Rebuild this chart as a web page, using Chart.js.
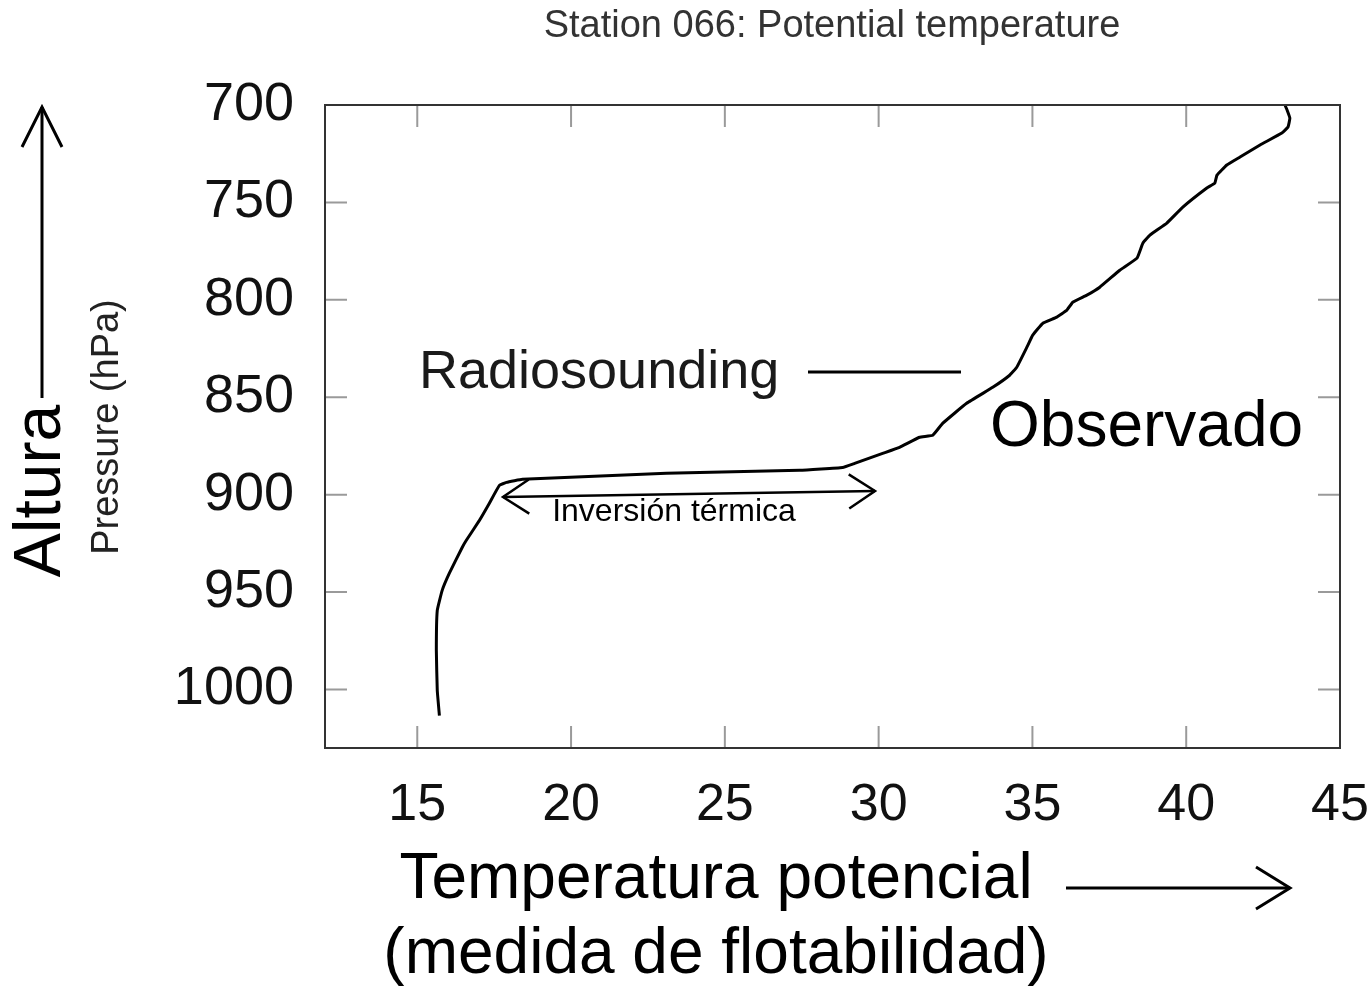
<!DOCTYPE html>
<html>
<head>
<meta charset="utf-8">
<script src="https://cdn.jsdelivr.net/npm/chart.js@4.4.1/dist/chart.umd.min.js"></script>
<style>
  html, body { margin: 0; padding: 0; background: #fff; }
  #wrap { width: 1372px; height: 986px; position: relative; }
</style>
</head>
<body>
<div id="wrap"><canvas id="sounding"></canvas></div>
<script>
// Radiosounding profile (potential temperature vs pressure)
const temperature = [15.72, 15.65, 15.62, 15.65, 15.81, 16.04, 16.46, 16.59, 17.02, 17.34, 17.67, 17.9, 18.42,
  23.1, 27.43, 28.83, 29.22, 30.13, 30.68, 31.33, 31.76, 32.08, 32.86, 33.71, 34.26, 34.49, 34.82, 35.01,
  35.34, 35.79, 36.12, 36.31, 36.77, 37.19, 37.84, 38.4, 38.59, 38.82, 39.37, 39.89, 40.67, 40.93, 41.0,
  41.32, 41.75, 42.4, 43.11, 43.31, 43.37, 43.28, 43.21];
const pressure = [1013.4, 1000.5, 980, 959.4, 949.1, 940.4, 927.1, 923.5, 913.2, 904.5, 895.2, 893.7, 892.1,
  889, 887.5, 886, 883.9, 878.8, 875.7, 870.5, 869.5, 863.4, 853.1, 844.9, 838.7, 834.6, 824.3, 818.1,
  812, 808.9, 805.3, 801.2, 797.6, 793.5, 784.8, 778.6, 770.9, 766.8, 760.6, 752.4, 742.6, 740.1, 736,
  730.8, 726.7, 720.5, 714.4, 711.3, 706.7, 702.6, 700];
const xTicks = [15, 20, 25, 30, 35, 40, 45];
const yTicks = [700, 750, 800, 850, 900, 950, 1000];

const FONT = "'Liberation Sans', Arial, Helvetica, sans-serif";

function arrowHead(ctx, tipX, tipY, dx, dy, len, spread) {
  // dx,dy: unit direction the arrow points to
  const px = -dy, py = dx;
  ctx.beginPath();
  ctx.moveTo(tipX - dx * len + px * spread, tipY - dy * len + py * spread);
  ctx.lineTo(tipX, tipY);
  ctx.lineTo(tipX - dx * len - px * spread, tipY - dy * len - py * spread);
  ctx.stroke();
}

const frame = {
  id: 'frame',
  afterDatasetsDraw(chart) {
    const { ctx, chartArea: a, scales } = chart;
    ctx.save();
    // inward tick marks on all four sides
    ctx.strokeStyle = '#9a9a9a';
    ctx.lineWidth = 2;
    scales.x.ticks.forEach((t, i) => {
      const x = scales.x.getPixelForTick(i);
      ctx.beginPath();
      ctx.moveTo(x, a.bottom); ctx.lineTo(x, a.bottom - 22);
      ctx.moveTo(x, a.top); ctx.lineTo(x, a.top + 22);
      ctx.stroke();
    });
    scales.y.ticks.forEach((t, i) => {
      const y = scales.y.getPixelForTick(i);
      ctx.beginPath();
      ctx.moveTo(a.left, y); ctx.lineTo(a.left + 22, y);
      ctx.moveTo(a.right, y); ctx.lineTo(a.right - 22, y);
      ctx.stroke();
    });
    ctx.strokeStyle = '#333';
    ctx.lineWidth = 2;
    ctx.strokeRect(a.left, a.top, a.right - a.left, a.bottom - a.top);
    ctx.restore();
  }
};

const notes = {
  id: 'notes',
  afterDraw(chart) {
    const { ctx } = chart;
    ctx.save();
    ctx.fillStyle = '#000';
    ctx.strokeStyle = '#000';
    ctx.textBaseline = 'middle';
    ctx.textAlign = 'center';

    // title
    ctx.font = '38px ' + FONT;
    ctx.fillStyle = '#333';
    ctx.fillText('Station 066: Potential temperature', 832, 27);

    // legend
    ctx.font = '54px ' + FONT;
    ctx.fillStyle = '#1a1a1a';
    ctx.textAlign = 'left';
    ctx.fillText('Radiosounding', 419, 373);
    ctx.lineWidth = 3;
    ctx.beginPath(); ctx.moveTo(808, 372); ctx.lineTo(961, 372); ctx.stroke();

    ctx.fillStyle = '#000';
    ctx.font = '64px ' + FONT;
    ctx.fillText('Observado', 990, 428);

    // inversion arrow
    ctx.lineWidth = 2.5;
    ctx.beginPath(); ctx.moveTo(503, 497); ctx.lineTo(875, 491); ctx.stroke();
    arrowHead(ctx, 503, 497, -1, 0.016, 26, 17);
    arrowHead(ctx, 875, 491, 1, -0.016, 26, 17);
    ctx.font = '32px ' + FONT;
    ctx.textAlign = 'center';
    ctx.fillText('Inversión térmica', 674, 512);

    // x axis caption
    ctx.font = '64px ' + FONT;
    ctx.fillText('Temperatura potencial', 716, 880);
    ctx.fillText('(medida de flotabilidad)', 716, 955);
    ctx.lineWidth = 3;
    ctx.beginPath(); ctx.moveTo(1066, 888); ctx.lineTo(1290, 888); ctx.stroke();
    arrowHead(ctx, 1290, 888, 1, 0, 34, 21);

    // y axis captions
    ctx.save();
    ctx.translate(108, 427);
    ctx.rotate(-Math.PI / 2);
    ctx.font = '38px ' + FONT;
    ctx.fillStyle = '#222';
    ctx.fillText('Pressure (hPa)', 0, 0);
    ctx.restore();

    ctx.save();
    ctx.translate(42, 491);
    ctx.rotate(-Math.PI / 2);
    ctx.font = '66px ' + FONT;
    ctx.fillText('Altura', 0, 0);
    ctx.restore();
    ctx.lineWidth = 3;
    ctx.beginPath(); ctx.moveTo(42, 398); ctx.lineTo(42, 107); ctx.stroke();
    arrowHead(ctx, 42, 107, 0, -1, 40, 20);

    ctx.restore();
  }
};

new Chart(document.getElementById('sounding'), {
  type: 'scatter',
  data: {
    datasets: [{
      label: 'Radiosounding',
      data: temperature.map((t, i) => ({ x: t, y: pressure[i] })),
      showLine: true,
      borderColor: '#000',
      borderWidth: 3,
      pointRadius: 0,
      tension: 0.1
    }]
  },
  options: {
    responsive: true,
    maintainAspectRatio: false,
    animation: false,
    layout: { padding: { left: 0, right: 0, top: 105, bottom: 0 } },
    plugins: {
      legend: { display: false },
      tooltip: { enabled: false },
      title: { display: false }
    },
    scales: {
      x: {
        type: 'linear',
        min: 12, max: 45,
        afterBuildTicks: s => { s.ticks = xTicks.map(v => ({ value: v })); },
        afterFit: s => { s.height = 238; s.paddingRight = 32; },
        grid: { display: false },
        border: { display: false },
        ticks: { color: '#111', padding: 18, font: { family: FONT, size: 52 }, callback: v => String(v) }
      },
      y: {
        type: 'linear',
        reverse: true,
        min: 700, max: 1030,
        afterBuildTicks: s => { s.ticks = yTicks.map(v => ({ value: v })); },
        afterFit: s => { s.width = 325; },
        grid: { display: false },
        border: { display: false },
        ticks: { color: '#111', padding: 23, font: { family: FONT, size: 54 }, callback: v => String(v) }
      }
    }
  },
  plugins: [frame, notes]
});
</script>
</body>
</html>
